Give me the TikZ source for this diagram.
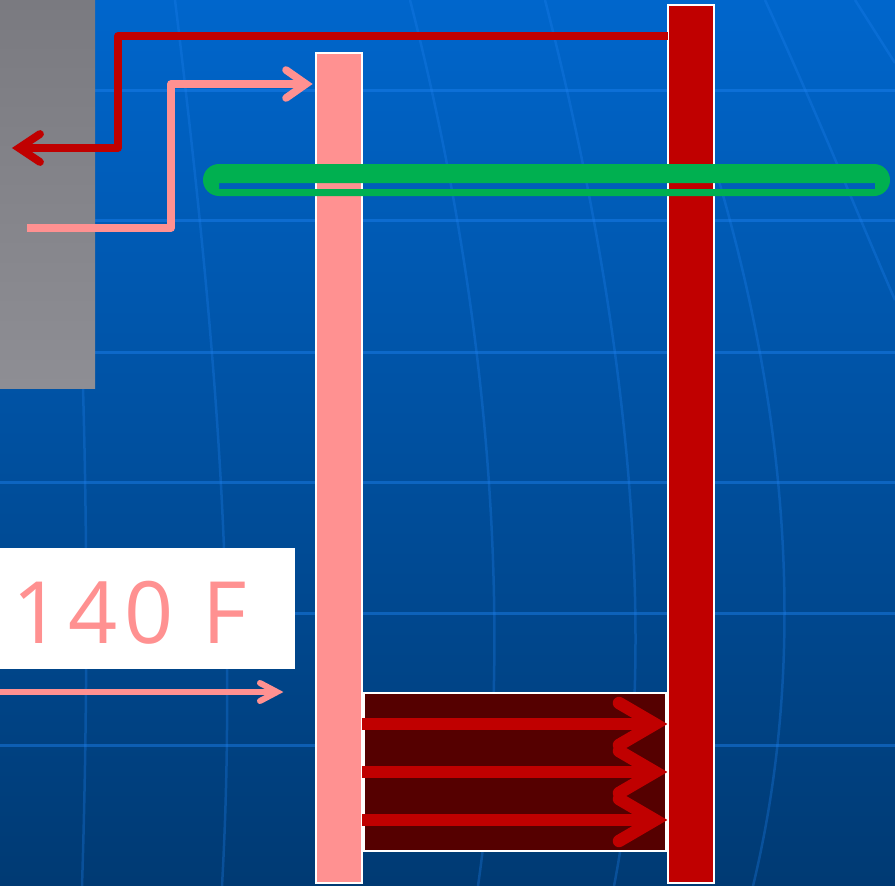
\documentclass[tikz,border=0pt]{standalone}
\usepackage{fontspec}
\newfontfamily\labelfont[LetterSpace=8]{Open Sans}
\usetikzlibrary{calc}
\definecolor{pinkc}{RGB}{255,145,145}
\definecolor{redc}{RGB}{192,0,0}
\definecolor{darkredc}{RGB}{85,0,0}
\definecolor{greenc}{RGB}{0,176,80}
\definecolor{bgtop}{RGB}{0,102,204}
\definecolor{bgbot}{RGB}{0,58,115}
\definecolor{gridc}{RGB}{30,130,240}
\definecolor{graytop}{RGB}{122,122,128}
\definecolor{graybot}{RGB}{142,142,148}
\begin{document}
\begin{tikzpicture}[x=1pt,y=-1pt,
  bar/.style={draw=white, line width=2pt, inner sep=0pt, outer sep=0pt, anchor=north west},
  gridline/.style={draw=gridc, line width=3pt, opacity=0.45},
  meridian/.style={draw=gridc, line width=2.5pt, opacity=0.3},
  redpipe/.style={draw=redc, line width=7.8pt, line join=round},
  pinkpipe/.style={draw=pinkc, line width=7.6pt, line join=round},
  chevron/.style={line cap=round, line join=miter},
  heatarrow/.style={draw=redc, line width=12.5pt},
  greenring/.style={fill=greenc, even odd rule}
]
\useasboundingbox (0,0) rectangle (895,886);
% background
\shade[top color=bgtop, bottom color=bgbot] (0,0) rectangle (895,886);
% grid
\foreach \yy in {90,220,352,482,613,745}{
  \draw[gridline] (0,\yy) -- (895,\yy);
}
\draw[meridian] (80,300) .. controls (88,500) and (88,700) .. (82,886);
\draw[meridian] (175,0) .. controls (215,330) and (238,600) .. (222,886);
\draw[meridian] (410,0) .. controls (495,330) and (512,650) .. (478,886);
\draw[meridian] (545,0) .. controls (630,330) and (660,650) .. (614,886);
\draw[meridian] (690,90) .. controls (790,380) and (810,650) .. (753,886);
\draw[meridian] (765,0) .. controls (820,120) and (860,220) .. (895,300);
\draw[meridian] (855,0) -- (895,63);
% gray wall
\shade[top color=graytop, bottom color=graybot] (0,0) rectangle (95,388);
% dark exchanger box
\node[bar, fill=darkredc, minimum width=302pt, minimum height=158pt] (box) at (364,693) {};
% bars
\node[bar, fill=pinkc, minimum width=46pt, minimum height=830pt] (pink) at (316,53) {};
\node[bar, fill=redc, minimum width=46pt, minimum height=878pt] (red) at (668,5) {};
% label box
\node[fill=white, anchor=north west, inner xsep=12pt, inner ysep=0pt, minimum height=121pt,
      text width=271pt, align=left, text=pinkc, font=\labelfont\fontsize{86}{86}\selectfont]
      (label) at (0,548) {\raisebox{-4pt}[\height][\depth]{140 F}};
% heat arrows
\foreach \yy/\nm in {724/a,772/b,820/c}{
  \coordinate (t\nm) at (655,\yy);
  \draw[heatarrow] (pink.east |- t\nm) -- (t\nm);
  \draw[heatarrow, chevron] ($(t\nm)+(-36,-21)$) -- (t\nm) -- ($(t\nm)+(-36,21)$);
}
% red top pipe
\coordinate (rstart) at (red.west |- 0,36);
\coordinate (rtip) at (19,148);
\draw[redpipe] (rstart) -- (118,36) -- (118,148) -- (rtip);
\draw[redpipe, chevron] ($(rtip)+(21,-14)$) -- (rtip) -- ($(rtip)+(21,14)$);
% pink top pipe
\coordinate (pstart) at (27,228);
\coordinate (ptip) at (306,84);
\draw[pinkpipe] (pstart) -- (171,228) -- (171,84) -- (ptip);
\draw[pinkpipe, chevron] ($(ptip)+(-20,-14)$) -- (ptip) -- ($(ptip)+(-20,14)$);
% pink bottom arrow
\coordinate (bstart) at (0,692);
\coordinate (btip) at (277,692);
\draw[draw=pinkc, line width=6pt] (bstart) -- (btip);
\draw[draw=pinkc, line width=6pt, chevron] ($(btip)+(-17,-9)$) -- (btip) -- ($(btip)+(-17,9)$);
% green ring
\path[greenring] (203,164) [rounded corners=16pt] -- (890,164) -- (890,196) -- (203,196) -- cycle
  [sharp corners] (219,183) rectangle (875,189);
\end{tikzpicture}
\end{document}
